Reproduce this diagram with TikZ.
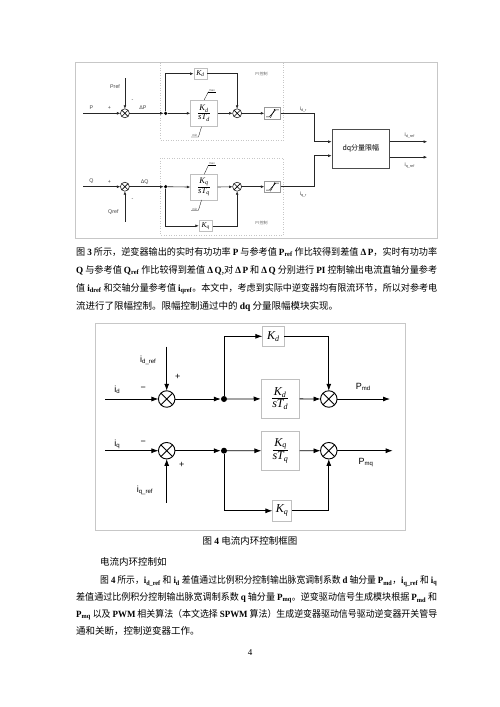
\documentclass[tikz,border=0pt]{standalone}
\usepackage{fontspec}
\usepackage{graphicx}
\setmainfont{Liberation Serif}
\newfontfamily\cjk{Noto Sans CJK SC}
\newfontfamily\arial{Liberation Sans}
\usetikzlibrary{arrows.meta}
\newcommand\lt[1]{{\rmfamily\bfseries #1}}
\newcommand\sbs[1]{\textsubscript{#1}}
\newcommand\crs[2]{\draw[line width=#2] (#1.north east)--(#1.south west) (#1.north west)--(#1.south east);}
\newcommand\frc[3]{\vbox{\halign{\hfil##\hfil\cr #2\cr\noalign{\kern0.8pt\hrule height #1\kern0.8pt}#3\cr}}}
\tikzset{
 fr/.style={draw=black!22, line width=0.8pt},
 pibox/.style={draw=black!22, dotted, line width=0.5pt},
 wire/.style={line width=0.6pt, draw=black!85},
 arr/.style={wire, -{Latex[length=3.5pt,width=2.8pt]}},
 wireB/.style={line width=0.8pt, draw=black},
 arrB/.style={wireB, -{Latex[length=7pt,width=5pt]}},
 sumA/.style={circle, draw=black!85, line width=0.6pt, minimum size=9pt, inner sep=0pt, outer sep=0pt},
 sumB/.style={circle, draw, line width=0.9pt, minimum size=16.5pt, inner sep=0pt, outer sep=0pt},
 dotA/.style={circle, fill, minimum size=3.6pt, inner sep=0pt},
 dotB/.style={circle, fill, minimum size=6pt, inner sep=0pt},
 gbox/.style={draw=black!25, line width=0.6pt, inner sep=0pt, fill=white},
 lblA/.style={font=\arial\fontsize{5.3}{6}\selectfont, text=black!75, inner sep=0pt},
 lblT/.style={font=\arial\fontsize{3}{3}\selectfont, text=black!70, inner sep=0pt},
 lblC/.style={font=\cjk\fontsize{4}{4}\selectfont, text=black!60, inner sep=0pt},
 lblB/.style={font=\arial\fontsize{9}{10}\selectfont, inner sep=0pt},
 txt/.style={font=\cjk\fontsize{9.5}{11}\selectfont, anchor=base west, inner sep=0pt},
}
\begin{document}
\begin{tikzpicture}[x=1pt,y=-1pt]
\useasboundingbox (0,0) rectangle (500,707);
\fill[white] (0,0) rectangle (500,707);
% ================= Figure 3 =================
\begin{scope}[x=1.046pt, xshift=-3.45pt]
\draw[fr] (75,62.7) rectangle (421,238);
\draw[pibox] (156.7,62.7) rectangle (274.3,140);
\draw[pibox] (156.7,158.3) rectangle (274.3,235);
\node[lblC] (pi1) at (253.3,74.3) {PI\,控制};
\node[lblC] (pi2) at (253.3,223.3) {PI\,控制};
% upper channel
\coordinate (pin) at (82.7,113.3);
\coordinate (prefin) at (122.7,78);
\node[sumA] (s1) at (122.7,113.3) {}; \crs{s1}{0.6pt}
\node[dotA] (d1) at (161.7,113.3) {};
\node[gbox, minimum width=13.3pt, minimum height=10.7pt] (kd1) at (195,73.7) {\fontsize{7.5}{7.5}\selectfont\itshape K\sbs{d}};
\node[gbox, minimum width=26.7pt, minimum height=26.7pt] (f1) at (198.3,113.3) {\fontsize{8.5}{9}\selectfont\itshape\frc{0.5pt}{K\sbs{d}}{sT\sbs{d}}};
\node[sumA] (s2) at (230,113.3) {}; \crs{s2}{0.6pt}
\node[gbox, draw=black!40, minimum width=15.7pt, minimum height=11.3pt] (sat1) at (263.8,113.3) {};
\draw[line width=0.5pt] ([shift={(-6,3.5)}]sat1.center) -- ++(3,0) -- ++(6,-7) -- ++(3,0);
\draw[line width=0.4pt,-{Latex[length=1.5pt,width=1.5pt]}] ([shift={(-2,4.5)}]sat1.center) -- ([shift={(2.5,-4.5)}]sat1.center);
\coordinate (idr) at (303.3,113.3);
\node[lblA] (lP) at (90.7,107.5) {P};
\node[lblA] (lp1) at (108,108) {+};
\node[lblA] (lPref) at (113.3,86.7) {Pref};
\node[lblA] (lm1) at (130,101) {-};
\node[lblA] (ldP) at (140,108) {ΔP};
\node[lblA] (lidr) at (293.3,109) {i\sbs{d\_r}};
\node[lblT] (mx1) at (206,90.5) {max};
\draw[line width=0.3pt] (202.5,91.8) -- (209.5,91.8);
\draw[line width=0.3pt] (202.5,91.8) -- (198.5,99.9);
\node[lblT] (mn1) at (189.5,135.7) {min};
\draw[line width=0.3pt] (186,137) -- (193,137) -- (196,126.7);
% lower channel
\coordinate (qin) at (82.7,186.7);
\coordinate (qrefin) at (122.7,221.7);
\node[sumA] (s3) at (122.7,186.7) {}; \crs{s3}{0.6pt}
\node[dotA] (d2) at (161.7,186.7) {};
\node[gbox, minimum width=26.7pt, minimum height=25.7pt] (f2) at (198.3,187.2) {\fontsize{8.5}{9}\selectfont\itshape\frc{0.5pt}{K\sbs{q}}{sT\sbs{q}}};
\node[sumA] (s4) at (230,186.7) {}; \crs{s4}{0.6pt}
\node[gbox, draw=black!40, minimum width=15.7pt, minimum height=11.3pt] (sat2) at (263.8,186.7) {};
\draw[line width=0.5pt] ([shift={(-6,3.5)}]sat2.center) -- ++(3,0) -- ++(6,-7) -- ++(3,0);
\draw[line width=0.4pt,-{Latex[length=1.5pt,width=1.5pt]}] ([shift={(-2,4.5)}]sat2.center) -- ([shift={(2.5,-4.5)}]sat2.center);
\node[gbox, minimum width=13.3pt, minimum height=11.7pt] (kq1) at (200,225.8) {\fontsize{7.5}{7.5}\selectfont\itshape K\sbs{q}};
\coordinate (iqr) at (303.3,186.7);
\node[lblA] (lQ) at (90.7,181.5) {Q};
\node[lblA] (lp3) at (108,181.7) {+};
\node[lblA] (lQref) at (111.7,211.7) {Qref};
\node[lblA] (lm3) at (130,199.5) {-};
\node[lblA] (ldQ) at (141.7,181.7) {ΔQ};
\node[lblA] (liqr) at (293.3,194.5) {i\sbs{q\_r}};
\node[lblT] (mx2) at (206,164) {max};
\draw[line width=0.3pt] (202.5,165.3) -- (209.5,165.3);
\draw[line width=0.3pt] (202.5,165.3) -- (198.5,174.3);
\node[lblT] (mn2) at (189.5,209) {min};
\draw[line width=0.3pt] (186,210.3) -- (193,210.3) -- (196,200);
% dq limiter
\node[draw=black!70, line width=0.6pt, minimum width=57.8pt, minimum height=39.3pt, inner sep=0pt, font=\cjk\fontsize{7}{7}\selectfont] (dq) at (348.3,148.5) {dq分量限幅};
\coordinate (y1) at (0,141.7);
\coordinate (y2) at (0,155.7);
\coordinate (y3) at (0,157.2);
\coordinate (o1) at (411.7,141.7);
\coordinate (o2) at (411.7,157.2);
\node[lblA] (lidref) at (395,135) {i\sbs{d\_ref}};
\node[lblA] (liqref) at (395,165) {i\sbs{q\_ref}};
% wires
\draw[arr] (pin) -- (s1);
\draw[arr] (prefin) -- (s1);
\draw[arr] (s1) -- (d1);
\draw[arr] (d1) |- (kd1);
\draw[arr] (d1) -- (f1);
\draw[arr] (kd1) -| (s2);
\draw[arr] (f1) -- (s2);
\draw[arr] (s2) -- (sat1);
\draw[wire] (sat1) -- (idr);
\draw[arr] (idr) |- (dq.west |- y1);
\draw[arr] (qin) -- (s3);
\draw[arr] (qrefin) -- (s3);
\draw[arr] (s3) -- (d2);
\draw[arr] (d2) -- (f2);
\draw[arr] (d2) |- (kq1);
\draw[arr] (kq1) -| (s4);
\draw[arr] (f2) -- (s4);
\draw[arr] (s4) -- (sat2);
\draw[wire] (sat2) -- (iqr);
\draw[arr] (iqr) |- (dq.west |- y2);
\draw[arr] (dq.east |- y1) -- (o1);
\draw[arr] (dq.east |- y3) -- (o2);
\end{scope}
% ================= text block 1 =================
\node[txt] (t1) at (76,255) {\resizebox{361pt}{\height}{图 \lt{3} 所示，逆变器输出的实时有功功率 \lt{P} 与参考值 \lt{P\sbs{ref}} 作比较得到差值 \lt{Δ\,P}，实时有功功率}};
\node[txt] (t2) at (76,273) {\resizebox{361pt}{\height}{\lt{Q} 与参考值 \lt{Q\sbs{ref}} 作比较得到差值 \lt{Δ\,Q},对 \lt{Δ\,P} 和 \lt{Δ\,Q} 分别进行 \lt{PI} 控制输出电流直轴分量参考}};
\node[txt] (t3) at (76,291) {\resizebox{361pt}{\height}{值 \lt{i\sbs{dref}} 和交轴分量参考值 \lt{i\sbs{qref}}。本文中，考虑到实际中逆变器均有限流环节，所以对参考电}};
\node[txt] (t4) at (76,309) {流进行了限幅控制。限幅控制通过中的 \lt{dq} 分量限幅模块实现。};
% ================= Figure 4 =================
\draw[fr] (95,323.3) rectangle (405,530);
\coordinate (idin) at (105,399);
\coordinate (idrefin) at (166.7,346.7);
\node[sumB] (s5) at (166.7,399) {}; \crs{s5}{0.9pt}
\node[dotB] (d3) at (224,399) {};
\node[gbox, minimum width=21.3pt, minimum height=20.7pt] (kd2) at (273.3,336.3) {\fontsize{12}{12}\selectfont\itshape K\sbs{d}};
\node[gbox, minimum width=38.3pt, minimum height=39pt] (f3) at (280.2,398.8) {\fontsize{12}{13}\selectfont\itshape\frc{0.8pt}{K\sbs{d}}{sT\sbs{d}}};
\node[sumB] (s6) at (328.8,399) {}; \crs{s6}{0.9pt}
\coordinate (pmd) at (390,399);
\node[lblB] (lid) at (117.3,390) {i\sbs{d}};
\node[lblB] (lm5) at (143.3,389) {−};
\node[lblB] (lidref2) at (148.3,360) {i\sbs{d\_ref}};
\node[lblB] (lp5) at (177.7,376.7) {+};
\node[lblB] (lpmd) at (363.3,387.3) {P\sbs{md}};
\coordinate (iqin) at (105,450.7);
\coordinate (iqrefin) at (166.7,502.7);
\node[sumB] (s7) at (166.7,450.7) {}; \crs{s7}{0.9pt}
\node[dotB] (d4) at (224,450.7) {};
\node[gbox, minimum width=37.6pt, minimum height=38.3pt] (f4) at (280.5,450.8) {\fontsize{12}{13}\selectfont\itshape\frc{0.8pt}{K\sbs{q}}{sT\sbs{q}}};
\node[gbox, minimum width=19pt, minimum height=21.7pt] (kq2) at (282.2,510.8) {\fontsize{12}{12}\selectfont\itshape K\sbs{q}};
\node[sumB] (s8) at (328.8,450.7) {}; \crs{s8}{0.9pt}
\coordinate (pmq) at (392.7,450.7);
\node[lblB] (liq) at (117.3,444) {i\sbs{q}};
\node[lblB] (lm7) at (143.3,442.7) {−};
\node[lblB] (lp7) at (181.7,465) {+};
\node[lblB] (liqref2) at (145,490) {i\sbs{q\_ref}};
\node[lblB] (lpmq) at (366,462.7) {P\sbs{mq}};
\draw[arrB] (idin) -- (s5);
\draw[arrB] (idrefin) -- (s5);
\draw[arrB] (s5) -- (d3);
\draw[arrB] (d3) |- (kd2);
\draw[arrB] (d3) -- (f3);
\draw[arrB] (kd2) -| (s6);
\draw[arrB] (f3) -- (s6);
\draw[arrB] (s6) -- (pmd);
\draw[arrB] (iqin) -- (s7);
\draw[arrB] (iqrefin) -- (s7);
\draw[arrB] (s7) -- (d4);
\draw[arrB] (d4) -- (f4);
\draw[arrB] (d4) |- (kq2);
\draw[arrB] (kq2) -| (s8);
\draw[arrB] (f4) -- (s8);
\draw[arrB] (s8) -- (pmq);
% ================= text block 2 =================
\node[font=\cjk\fontsize{9.5}{11}\selectfont, anchor=base, inner sep=0pt] (cap4) at (250,544.5) {图 \lt{4} 电流内环控制框图};
\node[txt] (u1) at (100,565.5) {电流内环控制如};
\node[txt] (u2) at (100,583.5) {\resizebox{337pt}{\height}{图 \lt{4} 所示，\lt{i\sbs{d\_ref}} 和 \lt{i\sbs{d}} 差值通过比例积分控制输出脉宽调制系数 \lt{d} 轴分量 \lt{P\sbs{md}}，\lt{i\sbs{q\_ref}} 和 \lt{i\sbs{q}}}};
\node[txt] (u3) at (76,600.5) {\resizebox{361pt}{\height}{差值通过比例积分控制输出脉宽调制系数 \lt{q} 轴分量 \lt{P\sbs{mq}}。逆变驱动信号生成模块根据 \lt{P\sbs{md}} 和}};
\node[txt] (u4) at (76,617.5) {\resizebox{361pt}{\height}{\lt{P\sbs{mq}} 以及 \lt{PWM} 相关算法（本文选择 \lt{SPWM} 算法）生成逆变器驱动信号驱动逆变器开关管导}};
\node[txt] (u5) at (76,634.5) {通和关断，控制逆变器工作。};
\node[font=\rmfamily\fontsize{9}{10}\selectfont, anchor=base, inner sep=0pt] (pg) at (250,655) {4};
\end{tikzpicture}
\end{document}
